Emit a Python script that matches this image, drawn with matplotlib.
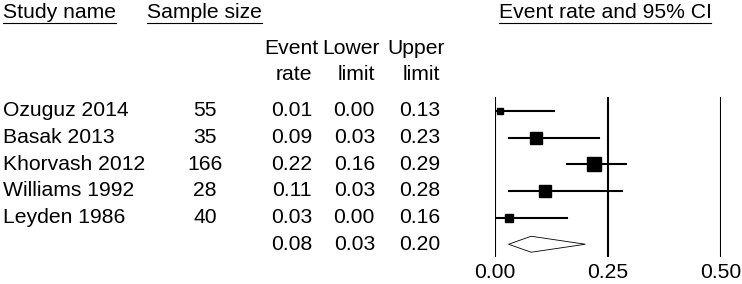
import numpy as np
import matplotlib.pyplot as plt
from matplotlib.transforms import blended_transform_factory
from matplotlib.lines import Line2D
from matplotlib.patches import Polygon

plt.rcParams['font.family'] = ['Liberation Sans', 'DejaVu Sans']

studies = ['Ozuguz 2014', 'Basak 2013', 'Khorvash 2012', 'Williams 1992', 'Leyden 1986']
sample_size = [55, 35, 166, 28, 40]
rate = [0.01, 0.09, 0.22, 0.11, 0.03]
lower = [0.00, 0.03, 0.16, 0.03, 0.00]
upper = [0.13, 0.23, 0.29, 0.28, 0.16]
pooled = (0.08, 0.03, 0.20)
xticks = [0.00, 0.25, 0.50]

W, H = 742, 284
fig = plt.figure(figsize=(W / 100, H / 100), dpi=100)

# forest axes: 0 -> 495px, 0.5 -> 721px ; rows 26.65px apart starting at 111px
x0, x1 = 495, 721
ax = fig.add_axes([x0 / W, 0, (x1 - x0) / W, 1])
ax.set_xlim(0, 0.5)
row0, dy = 111, 26.65
ax.set_ylim((H - row0) / dy, -row0 / dy)
ax.set_axis_off()

fs = 15.2
ytop, ybot = (97 - row0) / dy, (257 - row0) / dy
for v in xticks:
    ax.plot([v, v], [ytop, ybot], color='black', lw=1.5, solid_capstyle='butt')
    ax.text(v, (273 - row0) / dy, f'{v:.2f}', ha='center', va='center', fontsize=fs)

msizes = [5, 9, 9.7, 9, 6.3]
for i in range(len(studies)):
    ax.plot([lower[i], upper[i]], [i, i], color='black', lw=1.5)
    ax.plot(rate[i], i, marker='s', color='black', ms=msizes[i], linestyle='none')

k = len(studies)
est, lo, hi = pooled
ax.add_patch(Polygon([(lo, k), (est, k - 0.3), (hi, k), (est, k + 0.3)],
                     closed=True, fill=False, edgecolor='black', lw=0.6))

# table text
tr = blended_transform_factory(fig.transFigure, ax.transData)
for i in range(k):
    ax.text(3 / W, i, studies[i], transform=tr, ha='left', va='center', fontsize=fs)
    ax.text(205 / W, i, str(sample_size[i]), transform=tr, ha='center', va='center', fontsize=fs)
    ax.text(312 / W, i, f'{rate[i]:.2f}', transform=tr, ha='right', va='center', fontsize=fs)
    ax.text(375 / W, i, f'{lower[i]:.2f}', transform=tr, ha='right', va='center', fontsize=fs)
    ax.text(440 / W, i, f'{upper[i]:.2f}', transform=tr, ha='right', va='center', fontsize=fs)
ax.text(312 / W, k, f'{est:.2f}', transform=tr, ha='right', va='center', fontsize=fs)
ax.text(375 / W, k, f'{lo:.2f}', transform=tr, ha='right', va='center', fontsize=fs)
ax.text(440 / W, k, f'{hi:.2f}', transform=tr, ha='right', va='center', fontsize=fs)

# column headers
def fy(py):
    return 1 - py / H

for xa, xb, s1, s2 in [(318, 312, 'Event', 'rate'), (380, 375, 'Lower', 'limit'),
                       (445, 440, 'Upper', 'limit')]:
    fig.text(xa / W, fy(49), s1, ha='right', va='center', fontsize=fs)
    fig.text(xb / W, fy(74), s2, ha='right', va='center', fontsize=fs)

heads = []
heads.append(fig.text(3 / W, fy(12), 'Study name', ha='left', va='center', fontsize=fs))
heads.append(fig.text(147 / W, fy(12), 'Sample size', ha='left', va='center', fontsize=fs))
heads.append(fig.text(605 / W, fy(12), 'Event rate and 95% CI', ha='center', va='center', fontsize=fs))

fig.canvas.draw()
r = fig.canvas.get_renderer()
for t in heads:
    bb = t.get_window_extent(r)
    fig.add_artist(Line2D([bb.x0 / W, bb.x1 / W], [fy(23), fy(23)],
                          transform=fig.transFigure, color='black', lw=0.8))

fig.savefig('out.png', dpi=100, facecolor='white')
